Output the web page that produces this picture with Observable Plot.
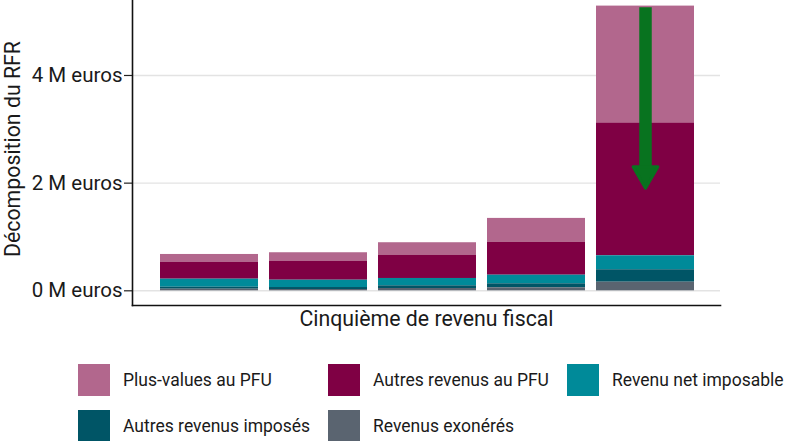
<!DOCTYPE html>
<html>
<head>
<meta charset="utf-8">
<script src="https://cdn.jsdelivr.net/npm/d3@7"></script>
<script src="https://cdn.jsdelivr.net/npm/@observablehq/plot@0.6"></script>
<style>
  html, body { margin: 0; padding: 0; background: #fff; }
  body { width: 788px; height: 441px; position: relative; overflow: hidden; font-family: Roboto, "Noto Sans", sans-serif; }
  #chart { position: absolute; left: 0; top: 0; }
  #legend { position: absolute; left: 78px; top: 364px; display: grid; grid-template-columns: 250px 239px auto; row-gap: 14px; }
  .item { display: flex; align-items: center; height: 32px; font-size: 17.5px; color: #1a1a1a; }
  .sw { width: 32px; height: 32px; margin-right: 13px; flex: none; }
</style>
</head>
<body>
<div id="chart"></div>
<div id="legend"></div>
<script>
// Data (millions of euros), by fiscal-income quintile
const quintiles = ["1", "2", "3", "4", "5"];
const series = ["Plus-values au PFU", "Autres revenus au PFU", "Revenu net imposable", "Autres revenus imposés", "Revenus exonérés"];
const plusValuesPFU   = [0.148, 0.162, 0.231, 0.446, 2.171];
const autresRevenusPFU = [0.311, 0.348, 0.433, 0.609, 2.467];
const revenuNetImposable = [0.149, 0.136, 0.136, 0.160, 0.260];
const autresRevenusImposes = [0.037, 0.037, 0.050, 0.074, 0.231];
const revenusExoneres = [0.030, 0.024, 0.043, 0.056, 0.160];
const colors = ["#b2678d", "#7f0044", "#008a99", "#005566", "#5a6470"];
const yTicks = [0, 2, 4];
const arrowQuintile = ["5"];
const arrowStart = [5.257];
const arrowEnd = [2.17];

const valuesBySeries = [plusValuesPFU, autresRevenusPFU, revenuNetImposable, autresRevenusImposes, revenusExoneres];
const rows = [];
series.forEach((s, i) => quintiles.forEach((q, j) => rows.push({quintile: q, serie: s, value: valuesBySeries[i][j]})));
const stackOrder = [...series].reverse(); // bottom: exonérés ... top: plus-values

const H = 345;
const chart = Plot.plot({
  width: 788,
  height: H,
  marginLeft: 132,
  marginRight: 68,
  marginTop: 0,
  marginBottom: H - 305,
  style: {fontFamily: "Roboto, sans-serif", background: "transparent"},
  x: {domain: quintiles, range: [153.8, 699.8], paddingInner: 0.1, paddingOuter: 0.05, axis: null},
  y: {domain: [-0.273, 5.393], axis: null},
  color: {domain: series, range: colors},
  marks: [
    Plot.ruleY(yTicks, {stroke: "#e3e3e3", strokeWidth: 1.4}),
    Plot.barY(rows, Plot.stackY({x: "quintile", y: "value", fill: "serie", order: stackOrder})),
    Plot.ruleX(arrowQuintile, {x: d => d, y1: arrowStart, y2: arrowEnd, stroke: "#08731f", strokeWidth: 12.5}),
    Plot.dot(arrowQuintile, {x: d => d, y: arrowEnd, symbol: "triangle", rotate: 180, r: 9.2, fill: "#08731f", stroke: "#08731f", strokeWidth: 3, strokeLinejoin: "round"}),
    Plot.axisY({ticks: yTicks, tickFormat: d => `${d} M euros`, tickSize: 8, tickPadding: 2, fontSize: 20.5, stroke: "#222", strokeWidth: 1.2, color: "#1a1a1a", label: null}),
    Plot.frame({anchor: "left", stroke: "#111", strokeWidth: 1.6}),
    Plot.frame({anchor: "bottom", stroke: "#111", strokeWidth: 1.6}),
    Plot.text(["Cinquième de revenu fiscal"], {frameAnchor: "bottom", dy: 14, fontSize: 21.3, fill: "#1a1a1a", lineAnchor: "middle", textAnchor: "middle"}),
    Plot.text(["Décomposition du RFR"], {frameAnchor: "left", dx: -119, dy: -4, rotate: -90, fontSize: 21.3, fill: "#1a1a1a", lineAnchor: "middle", textAnchor: "middle"})
  ]
});
document.getElementById("chart").append(chart);

const legendOrder = [0, 1, 2, 3, 4];
const legend = document.getElementById("legend");
legendOrder.forEach(i => {
  const item = document.createElement("div");
  item.className = "item";
  const sw = document.createElement("div");
  sw.className = "sw";
  sw.style.background = colors[i];
  const lab = document.createElement("span");
  lab.textContent = series[i];
  item.append(sw, lab);
  legend.append(item);
});
</script>
</body>
</html>
